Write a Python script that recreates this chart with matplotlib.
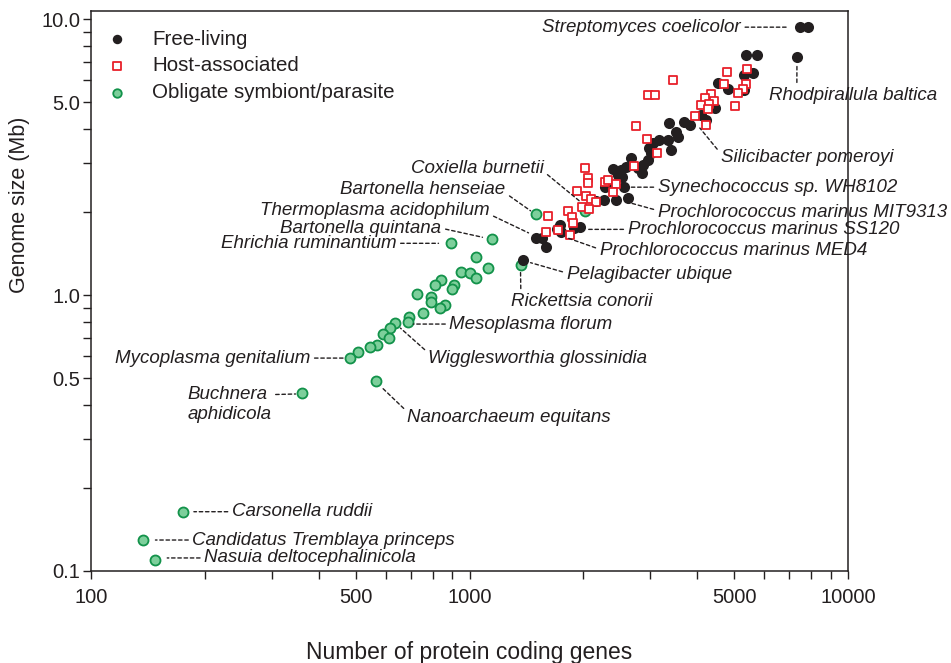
import matplotlib
matplotlib.use("Agg")
import matplotlib.pyplot as plt

plt.rcParams['font.family'] = ['Liberation Sans', 'DejaVu Sans']

# free-living genomes (protein coding genes, genome size in Mb)
free_genes = [7464, 7838, 5370, 5745, 7330, 5606, 5307, 4531, 4815, 5307,
              4447, 4084, 4210, 3361, 3682, 3819, 3508, 3551, 3162, 3341,
              3402, 2976, 3049, 3012, 2957, 2869, 2667, 2782, 2851, 2586,
              2508, 2389, 2463, 2524, 2276, 2360, 2555, 2262, 2433, 2618,
              2154, 1954, 1884, 1699, 1740, 1495, 1550, 1589, 1381, 1730]
free_mb = [9.35, 9.35, 7.41, 7.41, 7.28, 6.37, 6.27, 5.86, 5.58, 5.53,
           4.76, 4.49, 4.31, 4.20, 4.24, 4.13, 3.89, 3.74, 3.64, 3.64,
           3.35, 3.41, 3.55, 3.27, 3.08, 2.96, 3.14, 2.89, 2.77, 2.91,
           2.84, 2.86, 2.72, 2.68, 2.46, 2.50, 2.46, 2.21, 2.21, 2.25,
           2.19, 1.76, 1.75, 1.73, 1.69, 1.61, 1.61, 1.49, 1.34, 1.79]

# host-associated genomes
host_genes = [5406, 4786, 3444, 2957, 3086, 4699, 5374, 5276, 5117, 5024,
              4342, 4184, 4422, 4084, 4289, 4263, 3937, 4210, 2749, 2939,
              3123, 2716, 2015, 2052, 2052, 2276, 2318, 2433, 2389, 1919,
              2027, 2089, 2154, 1979, 2064, 1817, 1608, 1862, 1873, 1709,
              1589, 1839]
host_mb = [6.59, 6.43, 6.01, 5.30, 5.30, 5.82, 5.82, 5.58, 5.39, 4.84,
           5.35, 5.17, 5.05, 4.88, 4.92, 4.72, 4.45, 4.13, 4.10, 3.67,
           3.27, 2.93, 2.89, 2.65, 2.55, 2.57, 2.61, 2.53, 2.36, 2.38,
           2.28, 2.23, 2.17, 2.08, 2.05, 2.02, 1.93, 1.92, 1.82, 1.72,
           1.69, 1.65]

# obligate symbionts / parasites
obl_genes = [1495, 1148, 891, 1042, 1118, 951, 1006, 1042, 840, 813,
             909, 900, 727, 789, 790, 859, 835, 754, 694, 687,
             637, 615, 590, 613, 569, 547, 506, 484, 566, 361,
             1371, 2015, 175, 137, 148]
obl_mb = [1.97, 1.60, 1.54, 1.37, 1.25, 1.21, 1.20, 1.15, 1.13, 1.09,
          1.09, 1.05, 1.01, 0.98, 0.94, 0.92, 0.90, 0.86, 0.83, 0.80,
          0.79, 0.76, 0.72, 0.70, 0.66, 0.65, 0.62, 0.59, 0.49, 0.44,
          1.28, 2.01, 0.164, 0.130, 0.110]

# labelled organisms: name, leader end (genes, Mb), text offset (px), ha, relpos
labels = [
    ("Streptomyces coelicolor", 6939, 9.35, (-47, 0), 'right', (1, 0.5)),
    ("Rhodpirallula baltica", 7330, 6.87, (-28, -31), 'left', (0.166, 1)),
    ("Silicibacter pomeroyi", 4060, 4.03, (21, -29), 'left', (0, 0.7)),
    ("Synechococcus sp. WH8102", 2667, 2.46, (27, 0), 'left', (0, 0.5)),
    ("Prochlorococcus marinus MIT9313", 2618, 2.17, (30, -10), 'left', (0, 0.6)),
    ("Prochlorococcus marinus SS120", 2064, 1.73, (39, 0), 'left', (0, 0.5)),
    ("Prochlorococcus marinus MED4", 1817, 1.61, (32, -13), 'left', (0, 0.6)),
    ("Pelagibacter ubique", 1450, 1.31, (36, -12), 'left', (0, 0.6)),
    ("Rickettsia conorii", 1364, 1.22, (-10, -30), 'left', (0.073, 1)),
    ("Coxiella burnetii", 1954, 2.19, (-36, 33), 'right', (1, 0.3)),
    ("Bartonella henseiae", 1450, 2.02, (-25, 21), 'right', (1, 0.3)),
    ("Thermoplasma acidophilum", 1432, 1.68, (-39, 22), 'right', (1, 0.3)),
    ("Bartonella quintana", 1082, 1.62, (-41, 9), 'right', (1, 0.5)),
    ("Ehrichia ruminantium", 828, 1.54, (-42, 0), 'right', (1, 0.5)),
    ("Mesoplasma florum", 711, 0.785, (36, 0), 'left', (0, 0.5)),
    ("Wigglesworthia glossinidia", 657, 0.759, (28, -30), 'left', (0, 0.8)),
    ("Mycoplasma genitalium", 470, 0.591, (-35, 0), 'right', (1, 0.5)),
    ("Buchnera\naphidicola", 347, 0.438, (-108, -10.5), 'left', (1, 0.77)),
    ("Nanoarchaeum equitans", 589, 0.46, (25, -29), 'left', (0, 0.8)),
    ("Carsonella ruddii", 187, 0.164, (38, 0), 'left', (0, 0.5)),
    ("Candidatus Tremblaya princeps", 148, 0.1295, (37, 0), 'left', (0, 0.5)),
    ("Nasuia deltocephalinicola", 159, 0.1115, (37, 0), 'left', (0, 0.5)),
]

xticks = [100, 200, 300, 400, 500, 600, 700, 800, 900, 1000,
          2000, 3000, 4000, 5000, 6000, 7000, 8000, 9000, 10000]
xlabels = ['100', '', '', '', '500', '', '', '', '', '1000',
           '', '', '', '5000', '', '', '', '', '10000']
yticks = [0.1, 0.2, 0.3, 0.4, 0.5, 0.6, 0.7, 0.8, 0.9, 1.0,
          2, 3, 4, 5, 6, 7, 8, 9, 10]
ylabels = ['0.1', '', '', '', '0.5', '', '', '', '', '1.0',
           '', '', '', '5.0', '', '', '', '', '10.0']

fig = plt.figure(figsize=(9.51, 6.63), dpi=100)
ax = fig.add_axes([91 / 951, 92 / 663, 757 / 951, 560 / 663])

green = ax.scatter(obl_genes, obl_mb, s=52, facecolor='#7dcf9b',
                   edgecolor='#12924a', linewidth=1.3, zorder=3)
black = ax.scatter(free_genes, free_mb, s=64, color='#231f20',
                   linewidth=0, zorder=4)
red = ax.scatter(host_genes, host_mb, s=40, marker='s', facecolor='white',
                 edgecolor='#e8202a', linewidth=1.3, zorder=5)

ax.set_xscale('log')
ax.set_yscale('log')
ax.set_xlim(100, 10000)
ax.set_ylim(0.1, 10.7)

ax.set_xticks(xticks)
ax.set_xticklabels(xlabels)
ax.set_yticks(yticks)
ax.set_yticklabels(ylabels)
ax.minorticks_off()
ax.tick_params(axis='both', direction='out', length=6, width=1.0,
               labelsize=14.5, color='#231f20', labelcolor='#231f20')
ax.tick_params(axis='y', pad=1.5)
ax.tick_params(axis='x', pad=6)
for sp in ax.spines.values():
    sp.set_linewidth(1.1)
    sp.set_color('#231f20')

ax.set_xlabel('Number of protein coding genes', fontsize=16.5, color='#231f20')
ax.set_ylabel('Genome size (Mb)', fontsize=15.5, color='#231f20')
ax.xaxis.set_label_coords(0.5, -0.125)
ax.yaxis.set_label_coords(-0.08, 0.654)

for name, gx, mb, off, ha, rp in labels:
    ax.annotate(name, xy=(gx, mb), xytext=off, textcoords='offset pixels',
                ha=ha, va='center', fontsize=13.5, style='italic',
                color='#231f20', annotation_clip=False, zorder=6,
                arrowprops=dict(arrowstyle='-', linestyle=(0, (2.5, 2.0)),
                                linewidth=1.0, color='#231f20', relpos=rp,
                                shrinkA=1, shrinkB=0))

leg = ax.legend([black, red, green],
                ['Free-living', 'Host-associated', 'Obligate symbiont/parasite'],
                loc='upper left', bbox_to_anchor=(0.021, 0.9666), frameon=False,
                fontsize=14.8, borderpad=0, borderaxespad=0, handlelength=1.0,
                handletextpad=1.2, labelspacing=0.37, markerscale=0.85)
for t in leg.get_texts():
    t.set_color('#231f20')

plt.savefig('out.png', dpi=100)
